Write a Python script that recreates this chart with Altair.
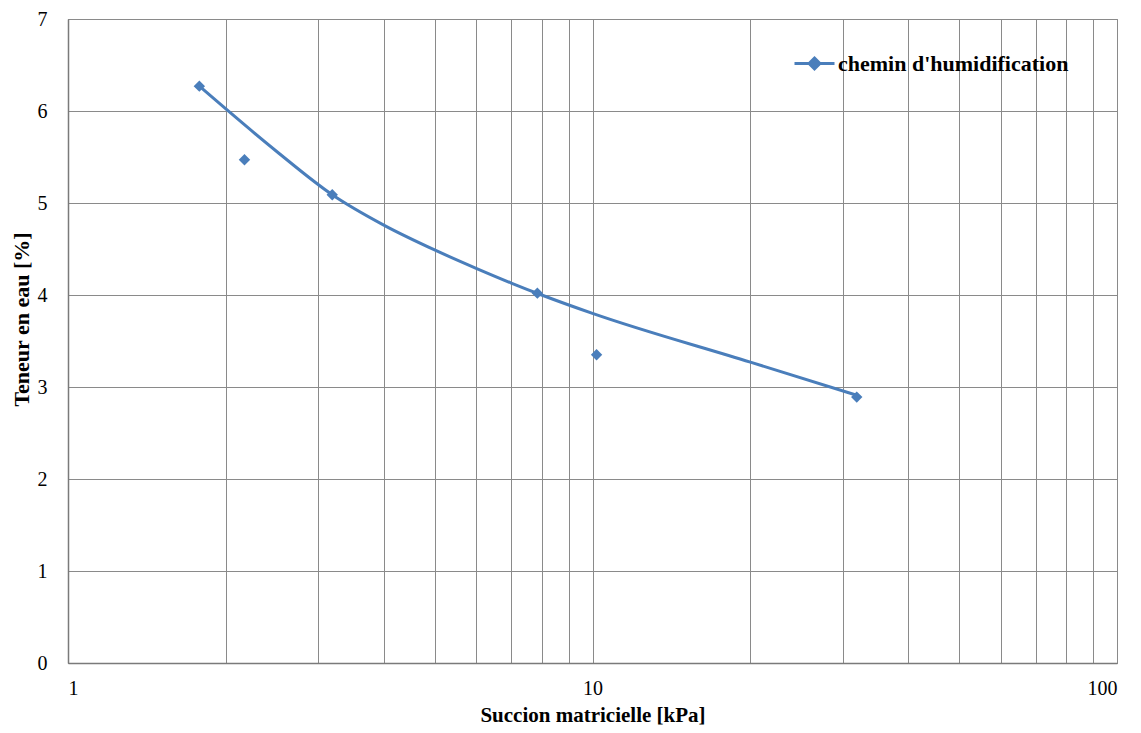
import altair as alt
import pandas as pd

# measured points (diamond markers)
point_x = [1.78, 2.17, 3.19, 7.85, 10.18, 31.9]
point_y = [6.27, 5.47, 5.09, 4.02, 3.35, 2.89]
# points
curve_x = [1.78, 2.5, 3.19, 4.0, 5.0, 6.0, 7.0, 8.0, 10.0, 20.0, 31.9]
curve_y = [6.27, 5.56, 5.09, 4.76, 4.49, 4.29, 4.13, 4.00, 3.80, 3.27, 2.91]

series_name = "chemin d'humidification"
x_grid = [1, 2, 3, 4, 5, 6, 7, 8, 9, 10, 20, 30, 40, 50, 60, 70, 80, 90, 100]
y_ticks = [0, 1, 2, 3, 4, 5, 6, 7]

BLUE = "#4a7ebb"
FONT = "Liberation Serif"

pts = pd.DataFrame({"x": point_x, "y": point_y, "s": series_name})
crv = pd.DataFrame({"x": curve_x, "y": curve_y, "s": series_name})

xscale = alt.Scale(type="log", domain=[1, 100], nice=False)
yscale = alt.Scale(domain=[0, 7], nice=False, zero=True)

xaxis = alt.Axis(
    values=x_grid,
    labelExpr="(datum.value == 1 || datum.value == 10 || datum.value == 100) ? format(datum.value, 'd') : ''",
    title="Succion matricielle [kPa]",
    ticks=False,
    labelPadding=15,
    titlePadding=6,
    titleFontSize=21,
)
yaxis = alt.Axis(
    values=y_ticks,
    format="d",
    title="Teneur en eau  [%]",
    ticks=False,
    labelPadding=21,
    titlePadding=4,
    titleFontSize=22,
    titleY=300,
)

legend_symbol = "M-1,0L1,0M0,-0.27L0.27,0L0,0.27L-0.27,0Z"

line = alt.Chart(crv).mark_line(color=BLUE, strokeWidth=3, interpolate="monotone").encode(
    x=alt.X("x:Q", scale=xscale, axis=xaxis),
    y=alt.Y("y:Q", scale=yscale, axis=yaxis),
    color=alt.Color(
        "s:N",
        scale=alt.Scale(domain=[series_name], range=[BLUE]),
        legend=alt.Legend(
            title=None,
            orient="none",
            legendX=725,
            legendY=23,
            padding=0,
            symbolType=legend_symbol,
            symbolSize=1600,
            symbolStrokeWidth=3,
            symbolFillColor=BLUE,
            symbolStrokeColor=BLUE,
            labelFont=FONT,
            labelFontSize=22,
            labelFontWeight="bold",
            labelColor="#000000",
            labelOffset=2,
            labelLimit=500,
        ),
    ),
)

points = alt.Chart(pts).mark_point(shape="diamond", filled=True, size=130, opacity=1, color=BLUE).encode(
    x=alt.X("x:Q", scale=xscale),
    y=alt.Y("y:Q", scale=yscale),
)

chart = (
    alt.layer(line, points)
    .properties(
        width=1049,
        height=644,
        autosize=alt.AutoSizeParams(type="none"),
        padding={"left": 60, "top": 11, "right": 16, "bottom": 62},
        background="white",
    )
    .configure_view(stroke="#888888", strokeWidth=1)
    .configure_axis(
        grid=True,
        gridColor="#8a8a8a",
        gridWidth=1,
        gridOpacity=1,
        domainColor="#7a7a7a",
        domainWidth=1.5,
        labelFont=FONT,
        labelFontSize=20,
        labelColor="#000000",
        titleFont=FONT,
        titleFontWeight="bold",
        titleColor="#000000",
    )
)

chart.save("out.html", embed_options={"renderer": "svg", "actions": False})
